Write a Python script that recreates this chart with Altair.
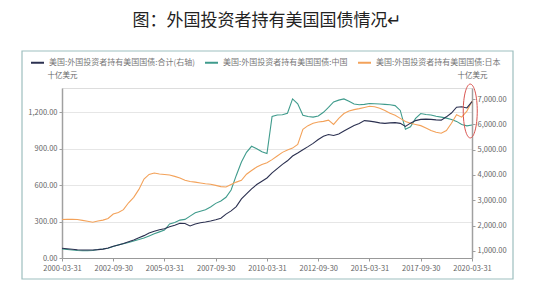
import altair as alt
import pandas as pd

# quarter-end dates 2000-03-31 .. 2020-03-31
dates = []
for yr in range(2000, 2021):
    for md in ["03-31", "06-30", "09-30", "12-31"]:
        d = f"{yr}-{md}"
        if "2000-03-31" <= d <= "2020-03-31":
            dates.append(d)

names = [
    "美国:外国投资者持有美国国债:合计(右轴)",
    "美国:外国投资者持有美国国债:中国",
    "美国:外国投资者持有美国国债:日本",
]
colors = ["#2b3050", "#3f9b8c", "#f3a25a"]

# 十亿美元, right axis
total = [1100, 1080, 1060, 1040, 1030, 1030, 1030, 1045, 1065, 1110,
         1180, 1230, 1290, 1360, 1430, 1520, 1600, 1700, 1770, 1830,
         1870, 1950, 2010, 2090, 2080, 1980, 2060, 2110, 2140, 2180,
         2230, 2290, 2450, 2580, 2750, 3050, 3250, 3450, 3620, 3750,
         3880, 4080, 4250, 4420, 4560, 4750, 4870, 5000, 5120, 5250,
         5400, 5530, 5600, 5560, 5620, 5740, 5850, 5960, 6040, 6150,
         6130, 6100, 6060, 6040, 6060, 6070, 6040, 5920, 6050, 6150,
         6200, 6210, 6200, 6180, 6170, 6300, 6450, 6680, 6700, 6650,
         6900]
# 十亿美元, left axis
china = [74, 70, 66, 62, 60, 60, 62, 70, 74, 80,
         95, 108, 118, 128, 140, 152, 165, 182, 200, 215,
         230, 280, 292, 312, 318, 345, 372, 385, 398, 420,
         450, 470, 500, 560, 680, 790, 870, 920, 900, 875,
         860, 1165, 1178, 1180, 1192, 1310, 1270, 1175, 1165, 1160,
         1170, 1200, 1240, 1285, 1300, 1310, 1290, 1268, 1262, 1265,
         1272, 1270, 1268, 1265, 1262, 1255, 1215, 1060, 1080, 1150,
         1190, 1182, 1178, 1168, 1160, 1152, 1140, 1125, 1100, 1088,
         1095]
japan = [317, 318, 318, 317, 310, 303, 295, 305, 312, 325,
         362, 375, 398, 455, 500, 565, 650, 688, 700, 692,
         688, 683, 672, 658, 640, 630, 625, 618, 612, 608,
         598, 588, 585, 605, 625, 640, 690, 720, 750, 770,
         785, 810, 840, 870, 890, 905, 935, 1060, 1090, 1110,
         1120, 1125, 1135, 1100, 1150, 1190, 1210, 1222, 1230, 1240,
         1250, 1245, 1233, 1215, 1192, 1175, 1150, 1125, 1110, 1100,
         1090, 1070, 1050, 1035, 1028, 1050, 1110, 1180, 1160, 1210,
         1290]

x_ticks = ["2000-03-31", "2002-09-30", "2005-03-31", "2007-09-30", "2010-03-31",
           "2012-09-30", "2015-03-31", "2017-09-30", "2020-03-31"]
left_ticks = [0, 300, 600, 900, 1200]
right_ticks = [1000, 2000, 3000, 4000, 5000, 6000, 7000]

# red ellipse annotation around the latest values (right-axis units)
mark_date = ["2020-02-29"]
mark_value = [6530]

rows = []
for name, vals in zip(names, [total, china, japan]):
    for d, v in zip(dates, vals):
        rows.append({"date": d, "series": name, "value": v})
df = pd.DataFrame(rows)
ann = pd.DataFrame({"date": mark_date, "value": mark_value})


def dt(s):
    y, m, d = s.split("-")
    return alt.DateTime(year=int(y), month=int(m), date=int(d), utc=True)


FONT = "Noto Sans CJK SC"
GRAY = "#666666"

x_enc = alt.X(
    "date:T",
    scale=alt.Scale(type="utc", domain=[dt(x_ticks[0]), dt(x_ticks[-1])], nice=False),
    axis=alt.Axis(values=[dt(t) for t in x_ticks],
                  labelExpr="utcFormat(datum.value, '%Y-%m-%d')",
                  labelOverlap=False, labelFlush=False,
                  title=None, grid=False, labelFontSize=7.5, labelColor=GRAY,
                  domainColor="#999999", tickColor="#999999", tickSize=3,
                  labelPadding=3, labelFont=FONT),
)

color_enc = alt.Color(
    "series:N",
    scale=alt.Scale(domain=names, range=colors),
    legend=alt.Legend(orient="none", legendX=-32, legendY=-33, direction="horizontal",
                      title=None, symbolType="stroke", symbolSize=169, symbolStrokeWidth=2,
                      labelFontSize=8, labelColor="#777777", labelFont=FONT, columnPadding=6,
                      labelLimit=300, labelOffset=4),
)

axis_common = dict(format=",.2f", title="十亿美元", titleAngle=0, titleX=0, titleY=-13,
                   titleAlign="center", titleBaseline="middle", titleFontSize=7.5,
                   titleFontWeight="normal", titleColor=GRAY, titleFont=FONT,
                   labelFontSize=7.5, labelColor=GRAY, labelFont=FONT,
                   labelOverlap=False, labelFlush=False,
                   domainColor="#a0a0a0", domainWidth=1.5, tickColor="#a0a0a0",
                   tickSize=3, labelPadding=2)

left = alt.Chart(df).transform_filter(alt.datum.series != names[0]).mark_line(
    strokeWidth=1.1).encode(
    x=x_enc,
    y=alt.Y("value:Q", scale=alt.Scale(domain=[0, 1400], nice=False, zero=False),
            axis=alt.Axis(orient="left", values=left_ticks, grid=True, gridColor="#e6e6e6",
                          **axis_common)),
    color=color_enc,
)

y_right = alt.Y("value:Q", scale=alt.Scale(domain=[715, 7440], nice=False, zero=False),
                axis=alt.Axis(orient="right", values=right_ticks, grid=False, **axis_common))

right_line = alt.Chart(df).transform_filter(alt.datum.series == names[0]).mark_line(
    strokeWidth=1.1).encode(x=x_enc, y=y_right, color=color_enc)

ellipse = alt.Chart(ann).mark_point(
    shape="M0,-1 A0.26,1 0 1 1 0,1 A0.26,1 0 1 1 0,-1 Z",
    size=2900, filled=False, stroke="#d9534f", strokeWidth=1, opacity=1).encode(
    x=x_enc, y=y_right)

right = alt.layer(right_line, ellipse)

frame = alt.Chart(pd.DataFrame({"k": [0]})).mark_rect(
    fillOpacity=0, stroke="#9dbfbf", strokeWidth=1.2).encode(
    x=alt.value(-40), x2=alt.value(451), y=alt.value(-37), y2=alt.value(191))

chart = alt.layer(frame, left, right).resolve_scale(y="independent").properties(
    width=410, height=170,
    title=alt.TitleParams(text="图：外国投资者持有美国国债情况↵", fontSize=17, font=FONT,
                          fontWeight="normal", color="#222222", anchor="middle", offset=20),
    autosize=alt.AutoSizeParams(type="none"),
    padding={"left": 62, "top": 88, "right": 70, "bottom": 30},
).configure_view(stroke="#e6e6e6").configure(background="white")

chart.save("out.html", embed_options={"renderer": "svg", "actions": False})
